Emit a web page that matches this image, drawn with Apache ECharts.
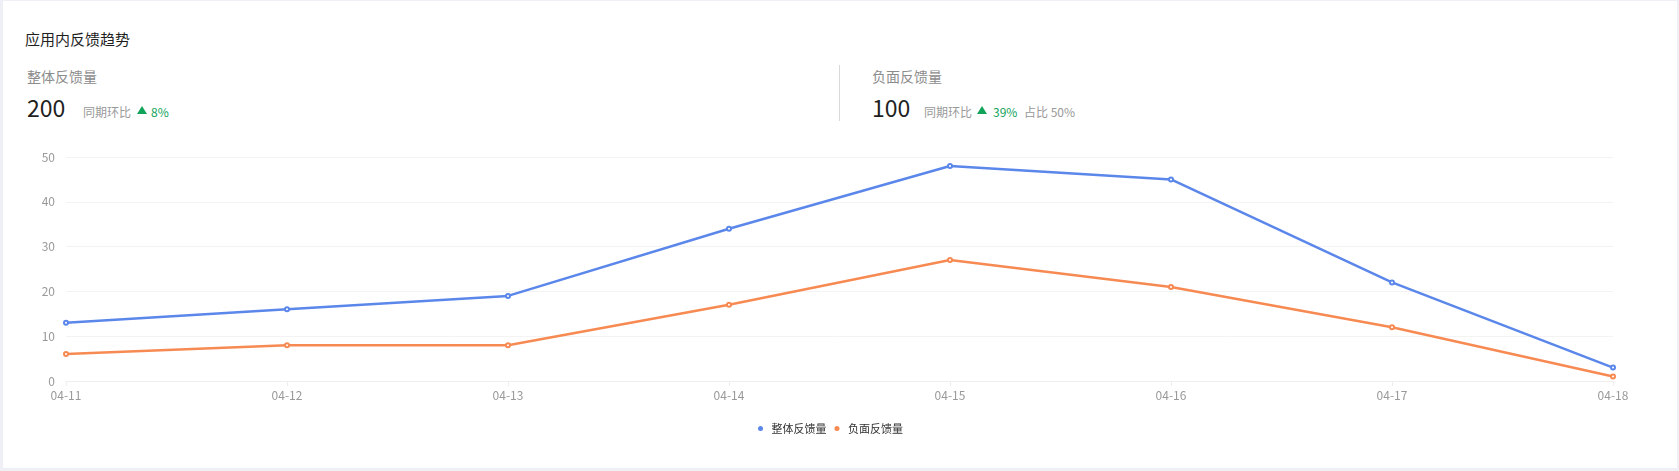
<!DOCTYPE html>
<html>
<head>
<meta charset="utf-8">
<script src="https://cdn.jsdelivr.net/npm/echarts@6/dist/echarts.min.js"></script>
<style>
  html, body { margin:0; padding:0; width:1679px; height:471px; background:#eef0f5; overflow:hidden;
    font-family: "Microsoft YaHei","Noto Sans CJK SC","Noto Sans",sans-serif; }
  #card { position:absolute; left:3px; top:1px; width:1674px; height:467px; background:#fff; }
  #chart { position:absolute; left:0; top:0; width:1679px; height:471px; }
  .t { position:absolute; white-space:nowrap; line-height:1; }
  .title { left:25px; top:31px; font-size:15px; color:#1f1f1f; }
  .lbl { font-size:14px; color:#8c8c8c; top:69px; }
  .big { font-size:23px; color:#1f1f1f; top:96px; }
  .sm { font-size:12px; color:#999; top:106px; }
  .up { font-size:12px; color:#11a35a; top:106px; }
  .tri { position:absolute; width:0; height:0; border-left:5px solid transparent; border-right:5px solid transparent; border-bottom:8px solid #11a35a; top:106px; }
  #div { position:absolute; left:839px; top:65px; width:1px; height:56px; background:#d9d9d9; }
</style>
</head>
<body>
<div id="card"></div>
<div class="t title">应用内反馈趋势</div>
<div class="t lbl" style="left:27px">整体反馈量</div>
<div class="t big" style="left:27px">200</div>
<div class="t sm" style="left:83px">同期环比</div>
<div class="tri" style="left:137px"></div>
<div class="t up" style="left:151px">8%</div>
<div id="div"></div>
<div class="t lbl" style="left:872px">负面反馈量</div>
<div class="t big" style="left:872px">100</div>
<div class="t sm" style="left:924px">同期环比</div>
<div class="tri" style="left:977px"></div>
<div class="t up" style="left:993px">39%</div>
<div class="t sm" style="left:1024px">占比 50%</div>
<div id="chart"></div>
<script>
const categories = ['04-11','04-12','04-13','04-14','04-15','04-16','04-17','04-18'];
const seriesNames = ['整体反馈量','负面反馈量'];
const totalValues = [13,16,19,34,48,45,22,3];
const negativeValues = [6,8,8,17,27,21,12,1];
const colors = ['#5b87ea','#f78a52'];

const chart = echarts.init(document.getElementById('chart'), null, {renderer:'canvas'});
chart.setOption({
  backgroundColor:'transparent',
  color: colors,
  textStyle:{fontFamily:'"Microsoft YaHei","Noto Sans CJK SC","Noto Sans",sans-serif'},
  grid:{left:66, right:66, top:157, bottom:90, containLabel:false},
  legend:{
    bottom:32, left:753, icon:'circle', itemWidth:12, itemHeight:5, itemGap:8,
    textStyle:{fontSize:11, color:'#333'},
    data: seriesNames
  },
  xAxis:{
    type:'category', boundaryGap:false, data:categories,
    axisLine:{lineStyle:{color:'#eeeeee'}},
    axisTick:{show:true, lineStyle:{color:'#eeeeee'}, length:5},
    axisLabel:{color:'#999', fontSize:12, margin:8}
  },
  yAxis:{
    type:'value', min:0, max:50, interval:10,
    axisLine:{show:false}, axisTick:{show:false},
    axisLabel:{color:'#999', fontSize:12, margin:11},
    splitLine:{lineStyle:{color:'#f3f3f3'}}
  },
  series:[
    {name:seriesNames[0], type:'line', data:totalValues, symbol:'emptyCircle', symbolSize:4, showSymbol:true,
     lineStyle:{width:2.5}, itemStyle:{borderWidth:1}},
    {name:seriesNames[1], type:'line', data:negativeValues, symbol:'emptyCircle', symbolSize:4, showSymbol:true,
     lineStyle:{width:2.5}, itemStyle:{borderWidth:1}}
  ]
});
</script>
</body>
</html>
